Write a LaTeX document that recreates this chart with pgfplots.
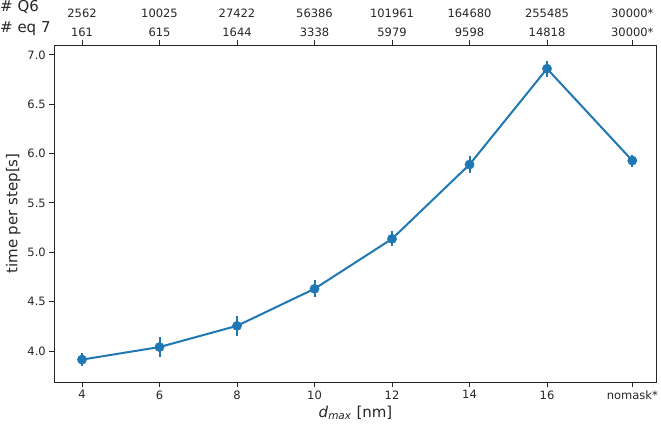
\documentclass[border=0pt]{standalone}
\usepackage{pgfplots}
\pgfplotsset{compat=1.18}
\usepackage{fontspec}
\setmainfont{DejaVu Sans}
\definecolor{mplblue}{HTML}{1F77B4}
\pgfplotstableread{
x y e
4 3.913 0.07
6 4.04 0.10
8 4.255 0.10
10 4.63 0.085
12 5.136 0.075
14 5.889 0.085
16 6.86 0.08
18.2 5.929 0.06
}\timedata
\begin{document}
\begin{tikzpicture}
\path[use as bounding box] (-54.3pt,-45pt) rectangle (606.7pt,382pt);
\pgfplotsset{common/.style={
  at={(0,0)}, anchor=south west, scale only axis,
  width=602.4pt, height=337pt,
  xmin=3.285, xmax=18.83, ymin=3.686, ymax=7.10,
  tick align=outside, major tick length=5pt,
  tick style={black!85, line width=0.9pt},
  axis line style={black!85, line width=0.9pt},
  /pgf/number format/assume math mode=true,
  ticklabel style={font=\fontsize{11.5}{18.5}\selectfont, text=black!85},
  label style={font=\fontsize{15}{18}\selectfont, text=black!85},
}}
\begin{axis}[common,
  tick pos=left,
  xtick={4,6,8,10,12,14,16,18.2},
  xticklabels={4,6,8,10,12,14,16,nomask*},
  ytick={4,4.5,5,5.5,6,6.5,7},
  yticklabel style={/pgf/number format/fixed, /pgf/number format/precision=1, /pgf/number format/fixed zerofill},
  ylabel={time per step[s]},
  xlabel={\textit{d}\textsubscript{\textit{max}} [nm]},
]
\addplot[mplblue, line width=2pt, mark=*, mark size=4.6pt,
  mark options={fill=mplblue, draw=mplblue, line width=0.5pt},
  error bars/.cd, y dir=both, y explicit,
  error bar style={line width=2pt, mplblue}, error mark=none]
  table[x=x, y=y, y error=e] {\timedata};
\end{axis}
\begin{axis}[common,
  axis x line*=top, axis y line=none,
  xtick={4,6,8,10,12,14,16,18.2},
  xticklabels={{2562\\161},{10025\\615},{27422\\1644},{56386\\3338},{101961\\5979},{164680\\9598},{255485\\14818},{30000*\\30000*}},
  xticklabel style={align=center},
]
\addplot[draw=none] coordinates {(4,4)};
\end{axis}
\node[anchor=base west, inner sep=0pt, font=\fontsize{15}{18}\selectfont, text=black!85] at (-54.3pt,370.5pt) {\# Q6};
\node[anchor=base west, inner sep=0pt, font=\fontsize{15}{18}\selectfont, text=black!85] at (-54.3pt,349pt) {\# eq 7};
\end{tikzpicture}
\end{document}
